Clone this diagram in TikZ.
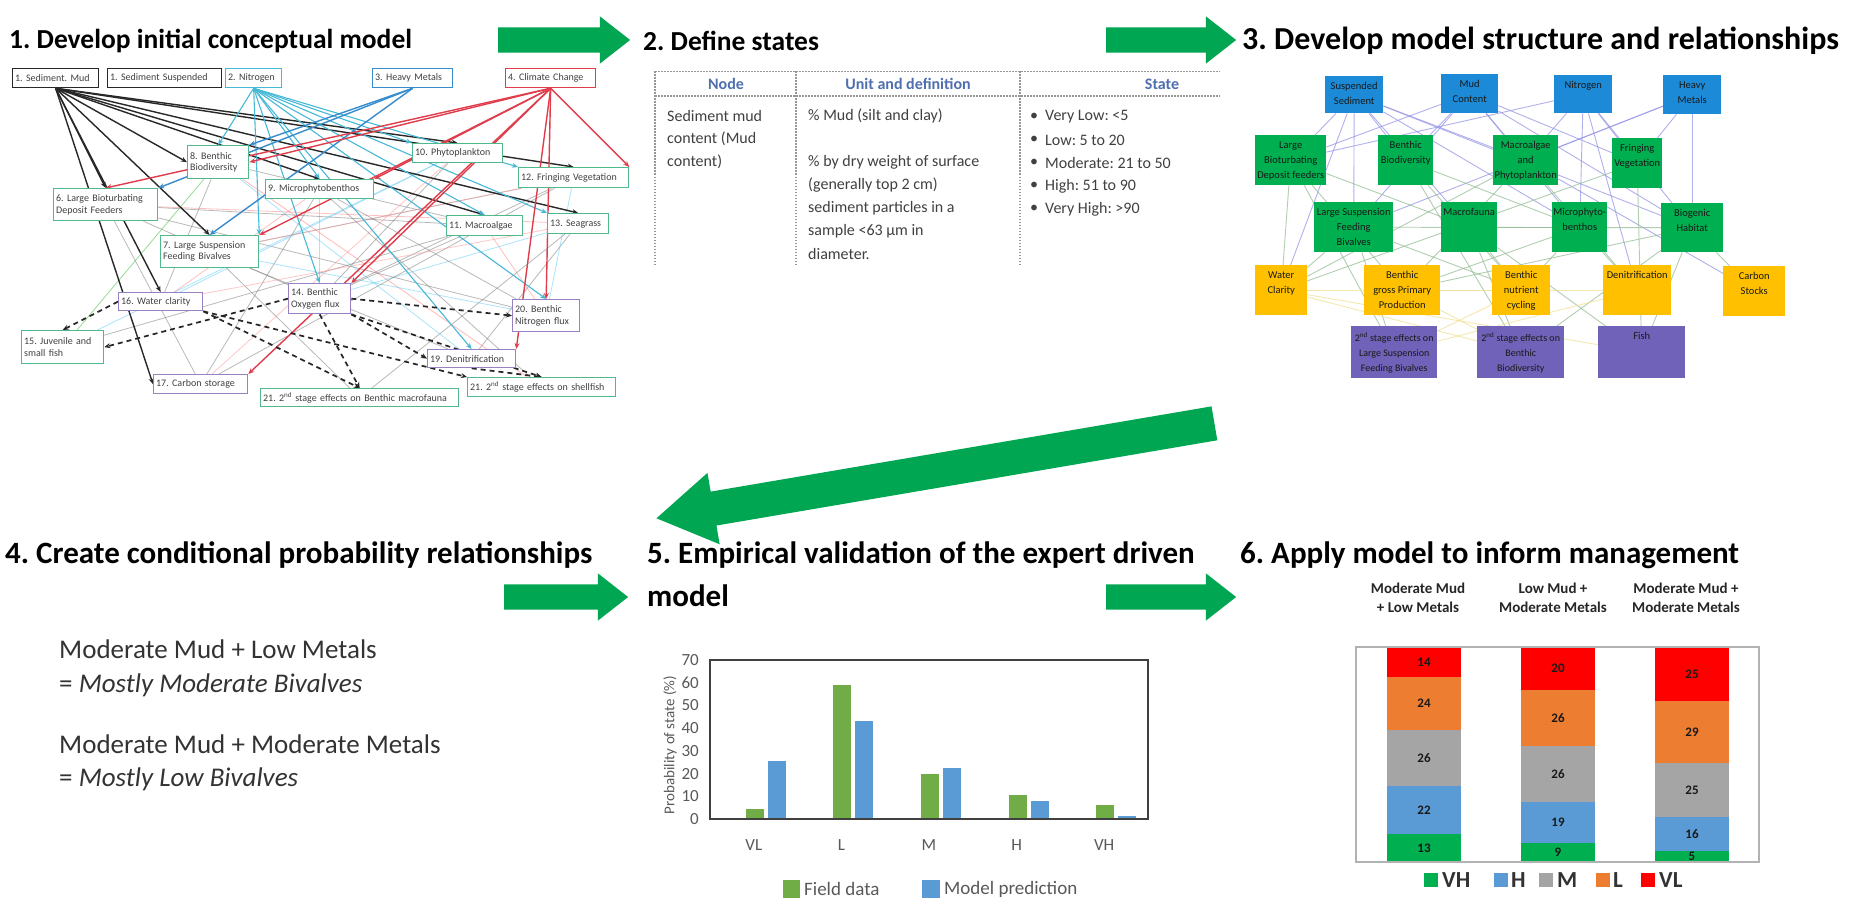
\documentclass[tikz,border=0pt]{standalone}
\usepackage{fontspec}
\setmainfont{Carlito}
\usetikzlibrary{shapes.arrows,arrows.meta}
\pgfdeclarelayer{bg}
\pgfsetlayers{bg,main}
\frenchspacing

\definecolor{flowgreen}{RGB}{0,166,81}
\definecolor{txtgray}{RGB}{64,64,64}
\definecolor{c1black}{RGB}{40,40,40}
\definecolor{c1cyan}{RGB}{70,185,215}
\definecolor{c1blue}{RGB}{55,140,205}
\definecolor{c1red}{RGB}{225,60,75}
\definecolor{c1green}{RGB}{80,185,140}
\definecolor{c1purple}{RGB}{150,130,195}
\definecolor{p3blue}{RGB}{28,138,214}
\definecolor{p3green}{RGB}{0,176,80}
\definecolor{p3orange}{RGB}{255,192,0}
\definecolor{p3purple}{RGB}{112,98,184}
\definecolor{p3line}{RGB}{150,150,230}
\definecolor{p3gline}{RGB}{150,190,150}
\definecolor{p3yline}{RGB}{240,225,150}
\definecolor{hdrblue}{RGB}{79,111,176}
\definecolor{tblline}{RGB}{150,150,150}
\definecolor{fieldgreen}{RGB}{112,173,71}
\definecolor{modelblue}{RGB}{91,155,213}
\definecolor{axisgray}{RGB}{89,89,89}
\definecolor{vhgreen}{RGB}{0,176,80}
\definecolor{hblue}{RGB}{91,155,213}
\definecolor{mgray}{RGB}{165,165,165}
\definecolor{lorange}{RGB}{237,125,49}
\definecolor{vlred}{RGB}{255,0,0}

\begin{document}
\begin{tikzpicture}[x=1pt,y=-1pt,
  ttl/.style={anchor=west, inner sep=0, font=\fontsize{31}{36}\selectfont\bfseries},
  flow/.style={single arrow, fill=flowgreen, draw=none, inner xsep=0, inner ysep=12.5,
    single arrow head extend=11, single arrow tip angle=76, minimum height=128},
  p1/.style={draw, line width=1.3, fill=white, font=\fontsize{10}{11.5}\selectfont,
    text=txtgray, inner sep=2.5, align=left, anchor=north west},
  e1/.style={line width=1.4, -{Stealth[length=6,width=5]}},
  e1d/.style={draw=black!85, line width=1.7, dash pattern=on 5 off 4, -{Stealth[length=6,width=5]}},
  e1t/.style={line width=0.8, opacity=0.55},
  p3/.style={anchor=north west, inner sep=0, draw=none},
  p3t/.style={font=\fontsize{10.5}{15}\selectfont, align=center, text=black!90, anchor=north, yshift=-3},
  p3e/.style={line width=0.9, opacity=0.75},
  tbl/.style={draw=tblline, line width=1.1, dash pattern=on 1.5 off 1.5},
  tcell/.style={anchor=west, inner sep=0, font=\fontsize{16}{20}\selectfont, text=txtgray},
  thdr/.style={inner sep=0, font=\fontsize{16}{20}\selectfont\bfseries, text=hdrblue},
  p4txt/.style={anchor=west, inner sep=0, font=\fontsize{27}{32}\selectfont, text=black!80},
  ticklab/.style={anchor=east, inner sep=0, font=\fontsize{17}{20}\selectfont, text=axisgray},
  catlab/.style={inner sep=0, font=\fontsize{17}{20}\selectfont, text=axisgray},
  leg/.style={anchor=west, inner sep=0, font=\fontsize{19}{22}\selectfont, text=axisgray},
  seglab/.style={inner sep=0, font=\fontsize{13}{15}\selectfont\bfseries, text=black!90},
  p6hdr/.style={inner sep=0, align=center, font=\fontsize{15}{19}\selectfont\bfseries, text=black!85},
  p6leg/.style={anchor=west, inner sep=0, font=\fontsize{23}{26}\selectfont\bfseries, text=black!80}
]
\begin{pgfonlayer}{bg}
  \fill[white] (0,0) rectangle (1851,904);
\end{pgfonlayer}
\path[use as bounding box] (0,0) rectangle (1851,904);

% ---------- titles ----------
\node[ttl, font=\fontsize{27.5}{32}\selectfont\bfseries] (t1) at (9,41) {1. Develop initial conceptual model};
\node[ttl, font=\fontsize{27.5}{32}\selectfont\bfseries] (t2) at (643,41) {2. Define states};
\node[ttl, font=\fontsize{32}{36}\selectfont\bfseries] (t3) at (1242,41) {3. Develop model structure and relationships};
\node[ttl] (t4) at (5,555) {4. Create conditional probability relationships};
\node[ttl] (t5) at (647,555) {5. Empirical validation of the expert driven};
\node[ttl] (t5b) at (647,596) {model};
\node[ttl] (t6) at (1240,555) {6. Apply model to inform management};

% ---------- flow arrows ----------
\node[flow, minimum height=132] (a12) at (556,40) {};
\node[flow, minimum height=130] (a23) at (1163,40) {};
\node[flow, minimum height=124] (a45) at (558,597) {};
\node[flow, minimum height=130] (a56) at (1163,597) {};
\node[flow, minimum height=566, inner ysep=17, single arrow head extend=19,
      single arrow tip angle=64, rotate=189.66] (a34) at (949,468.5) {};

% ---------- panel 1: conceptual network ----------
\node[p1, draw=c1black, text width=81, minimum height=19] (mud) at (12,68) {1. Sediment. Mud};
\node[p1, draw=c1black, text width=109, minimum height=19] (susp) at (107,68) {1. Sediment Suspended};
\node[p1, draw=c1cyan, text width=51, minimum height=19] (nit) at (225,68) {2. Nitrogen};
\node[p1, draw=c1blue, text width=75, minimum height=19] (hm) at (372,68) {3. Heavy Metals};
\node[p1, draw=c1red, text width=85, minimum height=19] (cc) at (505,68) {4. Climate Change};
\node[p1, draw=c1green, text width=56, minimum height=33] (bb) at (187,145) {8. Benthic\\Biodiversity};
\node[p1, draw=c1green, text width=85, minimum height=19] (phy) at (412,143) {10. Phytoplankton};
\node[p1, draw=c1green, text width=103, minimum height=19] (mpb) at (265,179) {9. Microphytobenthos};
\node[p1, draw=c1green, text width=105, minimum height=20] (fv) at (518,167) {12. Fringing Vegetation};
\node[p1, draw=c1green, text width=99, minimum height=32] (lbd) at (53,188) {6. Large Bioturbating\\Deposit Feeders};
\node[p1, draw=c1green, text width=93, minimum height=32] (lsf) at (160,235) {7. Large Suspension\\Feeding Bivalves};
\node[p1, draw=c1green, text width=71, minimum height=20] (ma) at (446,215) {11. Macroalgae};
\node[p1, draw=c1green, text width=56, minimum height=20] (sg) at (547,213) {13. Seagrass};
\node[p1, draw=c1purple, text width=79, minimum height=18] (wc) at (118,292) {16. Water clarity};
\node[p1, draw=c1purple, text width=57, minimum height=30] (ox) at (288,283) {14. Benthic\\Oxygen flux};
\node[p1, draw=c1purple, text width=62, minimum height=32] (nf) at (512,299) {20. Benthic\\Nitrogen flux};
\node[p1, draw=c1green, text width=77, minimum height=33] (jf) at (21,330) {15. Juvenile and\\small fish};
\node[p1, draw=c1purple, text width=83, minimum height=18] (dn) at (427,349) {19. Denitrification};
\node[p1, draw=c1purple, text width=89, minimum height=19] (cs) at (153,374) {17. Carbon storage};
\node[p1, draw=c1green, text width=193, minimum height=18] (bm) at (260,388) {21. 2\textsuperscript{nd} stage effects on Benthic macrofauna};
\node[p1, draw=c1green, text width=143, minimum height=19] (sf) at (467,377) {21. 2\textsuperscript{nd} stage effects on shellfish};

\begin{pgfonlayer}{bg}
  % weak secondary links
  \foreach \na/\nb/\ncol in {bb/ma/gray, bb/wc/gray, bb/sf/red!50, lbd/nf/gray, lbd/sg/red!45,
      lbd/cs/gray, lsf/dn/gray, lsf/nf/cyan!60, lsf/fv/gray, mpb/ox/cyan!60, mpb/wc/red!45,
      mpb/cs/gray, phy/wc/cyan!60, phy/ox/gray, phy/jf/cyan!60, ma/ox/gray, ma/nf/red!45,
      ma/jf/gray, sg/dn/gray, sg/ox/cyan!60, sg/bm/gray, fv/nf/cyan!60, fv/lsf/red!40,
      fv/cs/gray, bb/dn/cyan!60, lbd/ox/gray, lsf/bm/gray, mpb/nf/gray, phy/cs/red!40,
      ma/lbd/gray, mpb/sf/gray, bb/jf/green!50!gray, fv/ox/gray, sg/wc/red!40}
    \draw[e1t, draw=\ncol] (\na) -- (\nb);
  % sediment mud links
  \foreach \nb/\anc in {bb/west, lbd/north, lsf/north, mpb/north, ma/north, sg/north,
      fv/north, phy/north, wc/north, cs/west}
    \draw[e1, draw=c1black] (mud.south) -- (\nb.\anc);
  % nitrogen links
  \foreach \nb/\anc in {bb/north, mpb/north, phy/north west, ma/north, sg/north west,
      fv/north west, nf/north, dn/north, ox/north, lsf/north east}
    \draw[e1, draw=c1cyan, line width=1.1] (nit.south) -- (\nb.\anc);
  % heavy metal links
  \foreach \nb/\anc in {lbd/north east, lsf/north, bb/north east}
    \draw[e1, draw=c1blue] (hm.south) -- (\nb.\anc);
  % climate change links
  \foreach \nb/\anc in {bb/east, lbd/north, lsf/north east, ox/north east, cs/north east,
      dn/north east, nf/north, fv/north east, mpb/north east}
    \draw[e1, draw=c1red] (cc.south) -- (\nb.\anc);
  % second stage links
  \draw[e1d] (wc.west) -- (jf.north);
  \draw[e1d] (ox.west) -- (jf.east);
  \draw[e1d] (wc.south east) -- (bm.north);
  \draw[e1d] (wc.south east) -- (sf.north west);
  \draw[e1d] (ox.east) -- (nf.west);
  \draw[e1d] (ox.south east) -- (dn.west);
  \draw[e1d] (ox.south) -- (bm.north);
  \draw[e1d] (ox.south east) -- (sf.north);
  \draw[e1d] (dn.south) -- (sf.north);
\end{pgfonlayer}

% ---------- panel 2: state table ----------
\draw[tbl] (655,71.5) -- (1220,71.5);
\draw[tbl] (655,96) -- (1220,96);
\draw[tbl] (655,71.5) -- (655,266);
\draw[tbl] (796,71.5) -- (796,266);
\draw[tbl] (1020,71.5) -- (1020,266);
\node[thdr] (hnode) at (726,84) {Node};
\node[thdr] (hunit) at (908,84) {Unit and definition};
\node[thdr] (hstate) at (1162,84) {State};
\foreach \ln/\yy [count=\ci] in {Sediment mud/116, content (Mud/139, content)/162}
  \node[tcell] (ca\ci) at (667,\yy) {\ln};
\foreach \ln/\yy [count=\ci] in {\% Mud (silt and clay)/116, \% by dry weight of surface/162,
    (generally top 2 cm)/185, sediment particles in a/208, sample <63 µm in/231, diameter./254}
  \node[tcell] (cb\ci) at (808,\yy) {\ln};
\foreach \ln/\yy [count=\ci] in {Very Low: <5/117, Low: 5 to 20/140, Moderate: 21 to 50/163,
    High: 51 to 90/186, Very High: >90/209} {
  \node[tcell] (bul\ci) at (1030,\yy) {•};
  \node[tcell] (cc\ci) at (1045,\yy) {\ln};
}

% ---------- panel 3: model structure ----------
\node[p3, fill=p3blue, minimum width=58, minimum height=37, label={[p3t]north:{Suspended\\Sediment}}] (ss) at (1325,76) {};
\node[p3, fill=p3blue, minimum width=57, minimum height=39, label={[p3t]north:{Mud\\Content}}] (mc) at (1441,74) {};
\node[p3, fill=p3blue, minimum width=58, minimum height=38, label={[p3t]north:{Nitrogen}}] (ni) at (1554,75) {};
\node[p3, fill=p3blue, minimum width=58, minimum height=39, label={[p3t]north:{Heavy\\Metals}}] (hmt) at (1663,75) {};
\node[p3, fill=p3green, minimum width=71, minimum height=50, label={[p3t]north:{Large\\Bioturbating\\Deposit feeders}}] (lb) at (1255,135) {};
\node[p3, fill=p3green, minimum width=55, minimum height=50, label={[p3t]north:{Benthic\\Biodiversity}}] (bbd) at (1378,135) {};
\node[p3, fill=p3green, minimum width=65, minimum height=50, label={[p3t]north:{Macroalgae\\and\\Phytoplankton}}] (map) at (1493,135) {};
\node[p3, fill=p3green, minimum width=50, minimum height=50, label={[p3t]north:{Fringing\\Vegetation}}] (frv) at (1612,138) {};
\node[p3, fill=p3green, minimum width=79, minimum height=50, label={[p3t]north:{Large Suspension\\Feeding\\Bivalves}}] (ls) at (1314,202) {};
\node[p3, fill=p3green, minimum width=56, minimum height=50, label={[p3t]north:{Macrofauna}}] (mf) at (1441,202) {};
\node[p3, fill=p3green, minimum width=55, minimum height=50, label={[p3t]north:{Microphyto-\\benthos}}] (mp) at (1552,202) {};
\node[p3, fill=p3green, minimum width=62, minimum height=49, label={[p3t]north:{Biogenic\\Habitat}}] (bh) at (1661,203) {};
\node[p3, fill=p3orange, minimum width=52, minimum height=50, label={[p3t]north:{Water\\Clarity}}] (wcl) at (1255,265) {};
\node[p3, fill=p3orange, minimum width=76, minimum height=50, label={[p3t]north:{Benthic\\gross Primary\\Production}}] (bgp) at (1364,265) {};
\node[p3, fill=p3orange, minimum width=58, minimum height=50, label={[p3t]north:{Benthic\\nutrient\\cycling}}] (bnc) at (1492,265) {};
\node[p3, fill=p3orange, minimum width=68, minimum height=50, label={[p3t]north:{Denitrification}}] (dnf) at (1603,265) {};
\node[p3, fill=p3orange, minimum width=62, minimum height=50, label={[p3t]north:{Carbon\\Stocks}}] (cst) at (1723,266) {};
\node[p3, fill=p3purple, minimum width=86, minimum height=52, label={[p3t, font=\fontsize{10}{15}\selectfont]north:{2\textsuperscript{nd} stage effects on\\Large Suspension\\Feeding Bivalves}}] (s1) at (1351,326) {};
\node[p3, fill=p3purple, minimum width=87, minimum height=52, label={[p3t, font=\fontsize{10}{15}\selectfont]north:{2\textsuperscript{nd} stage effects on\\Benthic\\Biodiversity}}] (s2) at (1477,326) {};
\node[p3, fill=p3purple, minimum width=87, minimum height=52, label={[p3t]north:{Fish}}] (fsh) at (1598,326) {};

\begin{pgfonlayer}{bg}
  \foreach \na/\nb/\ncol in {ss/lb/p3line, ss/bbd/p3line, ss/ls/p3line, ss/map/p3line,
      ss/mp/p3line, ss/wcl/p3line, ss/mf/p3line, mc/lb/p3line, mc/bbd/p3line, mc/map/p3line,
      mc/ls/p3line, mc/mp/p3line, mc/bh/p3line, mc/frv/p3line, ni/map/p3line, ni/mp/p3line,
      ni/frv/p3line, ni/bh/p3line, ni/lb/p3line, ni/dnf/p3line, hmt/map/p3line, hmt/bh/p3line,
      hmt/frv/p3line, hmt/ls/p3line, map/cst/p3line, ss/bh/p3line,
      lb/wcl/p3gline, lb/bgp/p3gline, lb/s1/p3gline, bbd/bnc/p3gline, bbd/s2/p3gline,
      map/wcl/p3gline, map/bgp/p3gline, map/dnf/p3gline, ls/s1/p3gline, ls/bnc/p3gline,
      ls/wcl/p3gline, mf/s2/p3gline, mf/fsh/p3gline, mf/bnc/p3gline, mp/bgp/p3gline,
      mp/bnc/p3gline, mp/dnf/p3gline, bh/fsh/p3gline, bh/cst/p3gline, bh/bgp/p3gline,
      bh/s2/p3gline, frv/fsh/p3gline, frv/wcl/p3gline, bbd/mp/p3gline, lb/mf/p3gline,
      ls/bh/p3gline, mf/mp/p3gline,
      wcl/bnc/p3yline, wcl/fsh/p3yline, bgp/dnf/p3yline, bgp/s2/p3yline, bnc/s1/p3yline,
      dnf/s1/p3yline, wcl/s2/p3yline}
    \draw[p3e, draw=\ncol] (\na) -- (\nb);
\end{pgfonlayer}

% ---------- panel 4: conditional probabilities ----------
\node[p4txt] (q1) at (59,649) {Moderate Mud + Low Metals};
\node[p4txt] (q2) at (59,685) {= \itshape Mostly Moderate Bivalves};
\node[p4txt] (q3) at (59,744) {Moderate Mud + Moderate Metals};
\node[p4txt] (q4) at (59,779) {= \itshape Mostly Low Bivalves};

% ---------- panel 5: validation chart ----------
\foreach \lab/\ga/\gb [count=\ci] in {VL/4.5/25.5, L/59/43, M/20/22.5, H/10.5/8, VH/6/1.5} {
  \pgfmathsetmacro{\cx}{710+43.8*(2*\ci-1)}
  \fill[fieldgreen] (\cx-8,819) rectangle (\cx+10,{819-\ga*2.271});
  \fill[modelblue] (\cx+14,819) rectangle (\cx+32,{819-\gb*2.271});
  \node[catlab] (cat\ci) at (\cx,845) {\lab};
}
\draw[black!75, line width=1.2] (710,660) rectangle (1148,819);
\foreach \v in {0,10,...,70}
  \node[ticklab] (yt\v) at (699,{819-\v*2.271}) {\v};
\node[catlab, rotate=90, font=\fontsize{15}{18}\selectfont] (ylab) at (670,745) {Probability of state (\%)};
\fill[fieldgreen] (783,880) rectangle (800,898);
\node[leg] (legf) at (804,889) {Field data};
\fill[modelblue] (922,880) rectangle (940,898);
\node[leg] (legm) at (944,889) {Model prediction};

% ---------- panel 6: management scenarios ----------
\foreach \bx/\va/\vb/\vc/\vd/\ve [count=\bi] in {1387/13/22/26/24/14, 1521/9/19/26/26/20, 1655/5/16/25/29/25} {
  \pgfmathsetmacro{\unitpx}{215/(\va+\vb+\vc+\vd+\ve)}
  \pgfmathsetmacro{\ya}{862-\va*\unitpx}
  \pgfmathsetmacro{\yb}{\ya-\vb*\unitpx}
  \pgfmathsetmacro{\yc}{\yb-\vc*\unitpx}
  \pgfmathsetmacro{\yd}{\yc-\vd*\unitpx}
  \fill[vhgreen] (\bx,862) rectangle (\bx+74,\ya);
  \fill[hblue] (\bx,\ya) rectangle (\bx+74,\yb);
  \fill[mgray] (\bx,\yb) rectangle (\bx+74,\yc);
  \fill[lorange] (\bx,\yc) rectangle (\bx+74,\yd);
  \fill[vlred] (\bx,\yd) rectangle (\bx+74,647);
  \node[seglab] (seg\bi-vh) at (\bx+37,{(862+\ya)/2}) {\va};
  \node[seglab] (seg\bi-h) at (\bx+37,{(\ya+\yb)/2}) {\vb};
  \node[seglab] (seg\bi-m) at (\bx+37,{(\yb+\yc)/2}) {\vc};
  \node[seglab] (seg\bi-l) at (\bx+37,{(\yc+\yd)/2}) {\vd};
  \node[seglab] (seg\bi-vl) at (\bx+37,{(\yd+647)/2}) {\ve};
}
\draw[gray!60, line width=1.2] (1356,647) rectangle (1759,862);
\node[p6hdr] (hd1) at (1418,598) {Moderate Mud\\+ Low Metals};
\node[p6hdr] (hd2) at (1553,598) {Low Mud +\\Moderate Metals};
\node[p6hdr] (hd3) at (1686,598) {Moderate Mud +\\Moderate Metals};
\fill[vhgreen] (1424,873) rectangle (1438,887);
\node[p6leg] (lvh) at (1442,880) {VH};
\fill[hblue] (1494,873) rectangle (1508,887);
\node[p6leg] (lh) at (1511,880) {H};
\fill[mgray] (1539,873) rectangle (1553,887);
\node[p6leg] (lm) at (1557,880) {M};
\fill[lorange] (1596,873) rectangle (1610,887);
\node[p6leg] (ll) at (1613,880) {L};
\fill[vlred] (1641,873) rectangle (1655,887);
\node[p6leg] (lvl) at (1659,880) {VL};
\end{tikzpicture}
\end{document}
